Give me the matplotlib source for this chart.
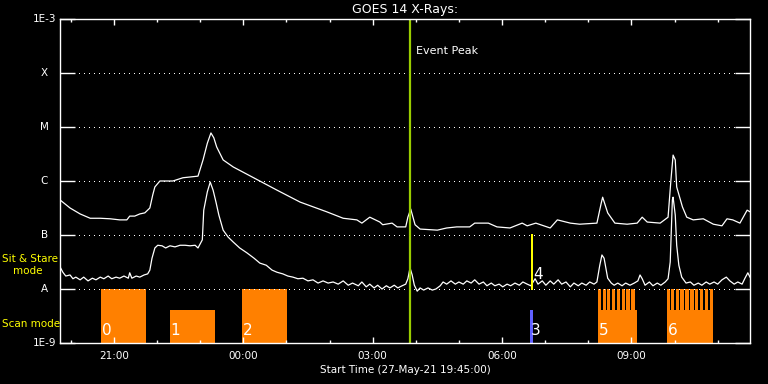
import numpy as np
import matplotlib
matplotlib.use('Agg')
from matplotlib import pyplot as plt
from matplotlib.transforms import blended_transform_factory

# time axis: minutes after 27-May-21 19:45:00
t_long = [0, 14, 28, 42, 56, 70, 83, 93, 97, 104, 111, 118, 125, 129, 132, 139, 157, 171,
          192, 199, 205, 210, 214, 218, 227, 241, 268, 302, 334, 371, 394, 413, 420, 431,
          445, 449, 462, 469, 481, 484, 488, 494, 501, 525, 538, 552, 570, 577, 596, 608,
          626, 643, 650, 662, 682, 692, 710, 723, 747, 753, 755, 762, 772, 789, 803, 810,
          817, 835, 846, 850, 853, 856, 858, 866, 872, 881, 895, 909, 921, 928, 936, 946,
          956, 960]
logf_long = [-6.35, -6.50, -6.61, -6.69, -6.69, -6.70, -6.72, -6.72, -6.65, -6.65, -6.61,
             -6.59, -6.50, -6.26, -6.11, -6.00, -6.00, -5.94, -5.91, -5.61, -5.30, -5.11,
             -5.20, -5.37, -5.61, -5.74, -5.93, -6.17, -6.39, -6.57, -6.69, -6.72, -6.78,
             -6.67, -6.76, -6.81, -6.78, -6.85, -6.85, -6.67, -6.52, -6.81, -6.89, -6.91,
             -6.87, -6.85, -6.85, -6.78, -6.78, -6.85, -6.87, -6.78, -6.83, -6.78, -6.87,
             -6.72, -6.78, -6.80, -6.78, -6.41, -6.30, -6.59, -6.78, -6.80, -6.78, -6.67,
             -6.76, -6.78, -6.67, -5.98, -5.52, -5.61, -6.11, -6.48, -6.67, -6.72, -6.70,
             -6.80, -6.83, -6.70, -6.72, -6.78, -6.54, -6.57]

t_short = [0, 4, 8, 14, 18, 22, 28, 33, 39, 45, 50, 56, 61, 67, 72, 78, 83, 89, 95, 97,
           100, 106, 111, 117, 122, 125, 128, 132, 136, 142, 147, 153, 160, 167, 174, 181,
           188, 192, 198, 200, 205, 209, 213, 217, 221, 227, 234, 241, 250, 260, 270, 278,
           287, 295, 302, 310, 317, 324, 331, 338, 345, 352, 359, 366, 373, 380, 387, 394,
           401, 407, 415, 420, 426, 431, 437, 442, 448, 454, 459, 465, 470, 476, 481, 484,
           487, 490, 493, 497, 501, 506, 512, 518, 523, 529, 533, 538, 544, 550, 555, 561,
           566, 572, 577, 583, 589, 594, 600, 605, 611, 616, 622, 627, 633, 639, 644, 650,
           655, 661, 665, 671, 676, 682, 687, 693, 698, 704, 710, 715, 721, 726, 732, 737,
           743, 747, 751, 754, 757, 760, 762, 767, 771, 776, 782, 787, 793, 799, 804, 807,
           810, 814, 820, 825, 831, 836, 842, 846, 849, 852, 853, 856, 858, 861, 865, 871,
           877, 882, 888, 893, 899, 904, 910, 915, 921, 927, 932, 938, 943, 949, 953, 957,
           960]
logf_short = [-7.59, -7.69, -7.76, -7.74, -7.81, -7.78, -7.83, -7.78, -7.85, -7.80, -7.83,
              -7.78, -7.81, -7.76, -7.81, -7.78, -7.80, -7.76, -7.80, -7.70, -7.80, -7.76,
              -7.78, -7.74, -7.72, -7.65, -7.43, -7.24, -7.19, -7.20, -7.24, -7.20, -7.22,
              -7.19, -7.19, -7.20, -7.19, -7.24, -7.09, -6.54, -6.20, -6.02, -6.17, -6.39,
              -6.63, -6.91, -7.04, -7.13, -7.24, -7.33, -7.43, -7.52, -7.56, -7.65, -7.69,
              -7.72, -7.76, -7.78, -7.81, -7.80, -7.85, -7.83, -7.89, -7.85, -7.89, -7.87,
              -7.91, -7.85, -7.93, -7.89, -7.94, -7.87, -7.96, -7.91, -7.98, -7.93, -8.00,
              -7.94, -7.98, -7.93, -7.98, -7.94, -7.91, -7.81, -7.61, -7.74, -7.93, -8.04,
              -7.98, -8.02, -7.98, -8.02, -8.00, -7.94, -7.87, -7.91, -7.85, -7.91, -7.87,
              -7.91, -7.85, -7.89, -7.83, -7.91, -7.87, -7.94, -7.89, -7.94, -7.91, -7.96,
              -7.91, -7.94, -7.89, -7.93, -7.87, -7.91, -7.94, -7.81, -7.91, -7.85, -7.93,
              -7.85, -7.91, -7.83, -7.91, -7.87, -7.96, -7.89, -7.94, -7.89, -7.93, -7.87,
              -7.91, -7.87, -7.56, -7.37, -7.43, -7.65, -7.80, -7.89, -7.93, -7.89, -7.94,
              -7.89, -7.93, -7.89, -7.85, -7.74, -7.81, -7.93, -7.87, -7.94, -7.89, -7.93,
              -7.87, -7.81, -7.50, -6.35, -6.30, -6.63, -7.19, -7.56, -7.78, -7.89, -7.87,
              -7.93, -7.89, -7.93, -7.87, -7.91, -7.87, -7.91, -7.83, -7.78, -7.85, -7.91,
              -7.87, -7.91, -7.80, -7.70, -7.78]

# observations: label, start, end, mode
obs_label = ['0', '1', '2', '5', '6']
obs_start = [57, 153, 253, 749, 845]
obs_end = [120, 216, 316, 803, 908]
obs_mode = ['sit', 'scan', 'sit', 'scan', 'scan']
teeth_5 = [748, 755, 761, 768, 775, 782, 788, 795]
teeth_6 = [844, 850, 857, 863, 870, 877, 883, 890, 897, 904]
tooth_w = 4.6
obs3 = (654, 658)
obs4 = 657
event_peak = 487

levels = [1e-9, 1e-8, 1e-7, 1e-6, 1e-5, 1e-4, 1e-3]
level_labels = ['1E-9', 'A', 'B', 'C', 'M', 'X', '1E-3']
sit_top = 1e-8
scan_top = 10 ** -8.39

hour_ticks = [75, 255, 435, 615, 795]
hour_labels = ['21:00', '00:00', '03:00', '06:00', '09:00']

orange = '#ff8000'
W, H = 768, 384

fig = plt.figure(figsize=(W / 100, H / 100), dpi=100, facecolor='black')
ax = fig.add_axes([60 / W, 41 / H, 690 / W, 324 / H], facecolor='black')
ax.set_yscale('log')
ax.set_xlim(0, 960)
ax.set_ylim(1e-9, 1e-3)

for lv in levels[1:-1]:
    ax.axhline(lv, color='white', lw=0.72, ls=(0, (1, 5)), xmin=0.02, xmax=0.98,
               antialiased=False)

ax.plot(t_long, 10 ** np.array(logf_long), color='white', lw=0.9)
ax.plot(t_short, 10 ** np.array(logf_short), color='white', lw=0.9)

for lab, s, e, m in zip(obs_label, obs_start, obs_end, obs_mode):
    top = sit_top if m == 'sit' else scan_top
    ax.bar(s, top - 1e-9, bottom=1e-9, width=e - s, align='edge', color=orange, lw=0)
for tt in teeth_5 + teeth_6:
    ax.bar(tt, sit_top - 1e-9, bottom=1e-9, width=tooth_w, align='edge', color=orange, lw=0)
for lab, s in zip(obs_label, obs_start):
    ax.text(s + 1, 1.25e-9, lab, color='white', fontsize=11, ha='left', va='bottom')

ax.bar(obs3[0], scan_top - 1e-9, bottom=1e-9, width=obs3[1] - obs3[0], align='edge',
       color='#6060ff', lw=0)
ax.text(obs3[0] + 1, 1.25e-9, '3', color='white', fontsize=11, ha='left', va='bottom')
ax.plot([obs4, obs4], [1e-8, 1e-7], color='#ffff00', lw=1.44)
ax.text(obs4 + 1, 1.35e-8, '4', color='white', fontsize=11, ha='left', va='bottom')

ax.axvline(event_peak, color='#99cc00', lw=1.6)
ax.text(event_peak + 8, 2.6e-4, 'Event Peak', color='white', fontsize=8, va='center')

for sp in ax.spines.values():
    sp.set_color('white')
    sp.set_linewidth(1)

ax.set_yticks(levels)
ax.set_yticklabels([])
ax.yaxis.set_minor_locator(matplotlib.ticker.NullLocator())
ax.tick_params(axis='y', which='major', direction='in', length=10.5, width=1,
               color='white', left=True, right=True)
tr = blended_transform_factory(ax.transAxes, ax.transData)
for lv, lab in zip(levels, level_labels):
    ax.text(-0.023, lv, lab, transform=tr, color='white', fontsize=7.5,
            ha='center', va='center')

ax.set_xticks(hour_ticks)
ax.set_xticklabels(hour_labels, color='white', fontsize=7.5)
ax.set_xticks(np.arange(15, 960, 60), minor=True)
ax.tick_params(axis='x', which='major', direction='in', length=4.5, width=1,
               color='white', top=True, bottom=True, pad=6)
ax.tick_params(axis='x', which='minor', direction='in', length=2.3, width=1,
               color='white', top=True, bottom=True)

fig.text(405 / W, 1 - 10 / H, 'GOES 14 X-Rays:', color='white', fontsize=9,
         ha='center', va='center')
fig.text(405 / W, 1 - 370 / H, 'Start Time (27-May-21 19:45:00)', color='white',
         fontsize=7.5, ha='center', va='center')
fig.text(2 / W, 1 - 259 / H, 'Sit & Stare', color='#ffff00', fontsize=7.5, va='center')
fig.text(13 / W, 1 - 271 / H, 'mode', color='#ffff00', fontsize=7.5, va='center')
fig.text(2 / W, 1 - 324 / H, 'Scan mode', color='#ffff00', fontsize=7.5, va='center')

fig.savefig('out.png', dpi=100, facecolor='black')
